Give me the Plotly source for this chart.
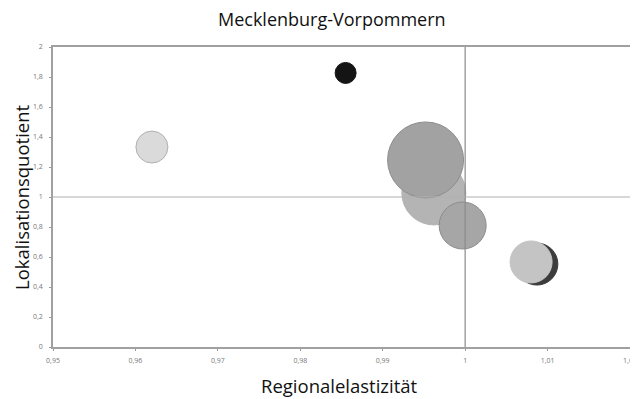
import plotly.graph_objects as go

# bubble data
elastizitaet = [0.9962, 0.9952, 0.9997, 0.9620, 0.9855, 1.0087, 1.0080]
lq = [1.027, 1.247, 0.810, 1.333, 1.827, 0.553, 0.567]
groesse = [64, 76, 47, 32, 21, 42, 42]
farben = ["#b4b4b4", "#a2a2a2", "#a6a6a6", "#dadada", "#141414", "#3c3c3c", "#c4c4c4"]
rand = ["#b4b4b4", "#8c8c8c", "#8c8c8c", "#b0b0b0", "#141414", "#3c3c3c", "#c4c4c4"]

x_ticks = [0.95, 0.96, 0.97, 0.98, 0.99, 1.0, 1.01, 1.02]
x_labels = ["0,95", "0,96", "0,97", "0,98", "0,99", "1", "1,01", "1,02"]
y_ticks = [0, 0.2, 0.4, 0.6, 0.8, 1.0, 1.2, 1.4, 1.6, 1.8, 2.0]
y_labels = ["0", "0,2", "0,4", "0,6", "0,8", "1", "1,2", "1,4", "1,6", "1,8", "2"]

fig = go.Figure(go.Scatter(
    x=elastizitaet, y=lq, mode="markers",
    marker=dict(size=groesse, sizemode="diameter", sizeref=1,
                color=farben, opacity=1,
                line=dict(color=rand, width=1)),
    hoverinfo="x+y", showlegend=False,
))

# Bezugslinien bei 1
fig.add_shape(type="line", x0=1, x1=1, y0=0, y1=2, layer="above",
              line=dict(color="#8a8a8a", width=1.2))
fig.add_shape(type="line", x0=0.95, x1=1.02, y0=1, y1=1, layer="above",
              line=dict(color="#b0b0b0", width=1.2))

font = "Open Sans, Noto Sans, sans-serif"
# page body has an 8px margin, so the figure is 8px smaller to fit the window
fig.update_layout(
    width=630, height=391,
    margin=dict(l=45, r=8, t=39, b=52),
    paper_bgcolor="white", plot_bgcolor="white",
    title=dict(text="Mecklenburg-Vorpommern", x=0.514, xanchor="center",
               y=1 - 12 / 391, yanchor="middle",
               font=dict(family=font, size=18, color="#111")),
    font=dict(family=font, color="#111"),
)
fig.add_annotation(text="Regionalelastizität", xref="paper", yref="paper",
                   x=0.497, y=-0.128, showarrow=False,
                   xanchor="center", yanchor="middle", font=dict(size=18.5))
fig.add_annotation(text="Lokalisationsquotient", xref="paper", yref="paper",
                   x=-0.0555, y=0.5, showarrow=False, textangle=-90,
                   xanchor="center", yanchor="middle", font=dict(size=18.5))
fig.update_xaxes(
    range=[0.95, 1.02], tickvals=x_ticks, ticktext=x_labels,
    tickfont=dict(size=7, color="#777"), ticks="outside", ticklen=2,
    ticklabelstandoff=4,
    tickcolor="#999", showgrid=False, zeroline=False, automargin=False,
    ticklabeloverflow="allow",
    showline=True, linecolor="#a0a0a0", linewidth=1.5, mirror=True,
)
fig.update_yaxes(
    range=[0, 2], tickvals=y_ticks, ticktext=y_labels,
    tickfont=dict(size=7, color="#777"), ticks="outside", ticklen=2,
    ticklabelstandoff=5,
    tickcolor="#999", showgrid=False, zeroline=False, automargin=False,
    ticklabeloverflow="allow",
    showline=True, linecolor="#a0a0a0", linewidth=1.5, mirror=True,
)

fig.write_html("out.html")
